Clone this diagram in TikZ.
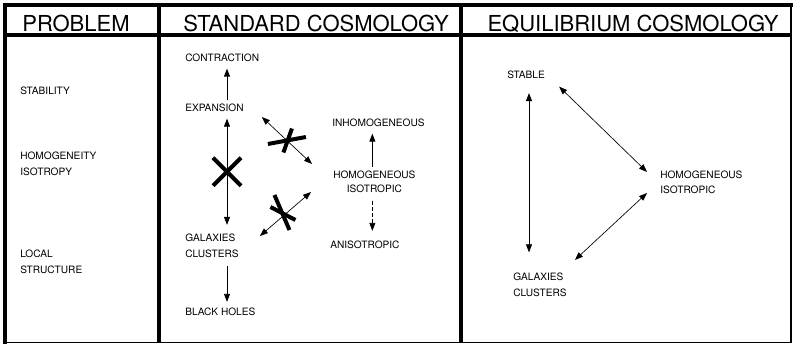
\documentclass[tikz,border=0pt]{standalone}
\usepackage{fontspec}
\setmainfont{TeX Gyre Heros}
\usepackage{tikz}
\usetikzlibrary{arrows.meta,calc}

\begin{document}
\begin{tikzpicture}[
    x=0.75pt, y=-0.75pt,
    head/.style={anchor=base, inner sep=0pt, font=\fontsize{16.5}{18}\selectfont},
    lbl/.style={anchor=west, inner sep=0pt, align=left, font=\fontsize{7.6}{12}\selectfont},
    arr/.style={-{Triangle[length=6pt,width=4.5pt]}, line width=0.6pt},
    dblarr/.style={{Triangle[length=6pt,width=4.5pt]}-{Triangle[length=6pt,width=4.5pt]}, line width=0.5pt},
    bar/.style={line width=3pt},
    heavy/.style={line width=2.6pt}
]
    \useasboundingbox (0,0) rectangle (793,345);

    % Frame
    \draw[line width=0.8pt] (5,5) rectangle (791,342.5);
    \draw[heavy] (3,5) -- (792.5,5);
    \draw[heavy] (5,35) -- (791,35);
    \draw[heavy] (5,3) -- (5,344);
    \draw[line width=3pt] (158.5,5) -- (158.5,343);
    \draw[line width=3pt] (461,5) -- (461,343);
    \draw[line width=1.8pt] (791,5) -- (791,35);

    % Headings
    \node[head] (hprob) at (76,32) {PROBLEM};
    \node[head] (hstd) at (316,32) {STANDARD COSMOLOGY};
    \node[head] (hequ) at (633,32) {EQUILIBRIUM COSMOLOGY};

    % Problem column
    \node[lbl] (stab) at (20,91) {STABILITY};
    \node[lbl] (homog) at (20,164) {HOMOGENEITY\\ISOTROPY};
    \node[lbl] (local) at (20,262) {LOCAL\\STRUCTURE};

    % Standard cosmology
    \node[lbl] (contr) at (185,58) {CONTRACTION};
    \node[lbl] (exp) at (185,108) {EXPANSION};
    \node[lbl] (gal) at (185,246) {GALAXIES\\CLUSTERS};
    \node[lbl] (bh) at (185,312) {BLACK HOLES};
    \node[lbl] (inhom) at (332,123) {INHOMOGENEOUS};
    \node[lbl, align=center, font=\fontsize{7.6}{10.5}\selectfont] (hom) at (333,182) {HOMOGENEOUS\\ISOTROPIC};
    \node[lbl] (aniso) at (330,245) {ANISOTROPIC};

    \draw[arr] ($(exp.north west)+(42,-4)$) -- ($(contr.south west)+(42,6.5)$);
    \draw[dblarr] ($(exp.south west)+(42,6.5)$) -- ($(gal.north west)+(42,-9)$)
        coordinate[pos=0.5] (xmid);
    \draw[arr] ($(gal.south west)+(42,8)$) -- ($(bh.north west)+(42,-6)$);
    \draw[dblarr] ($(exp.east)+(18,9)$) -- ($(hom.west)+(-21,-18)$)
        coordinate[pos=0.5] (xup);
    \draw[dblarr] ($(gal.east)+(21,-10)$) -- ($(hom.west)+(-22,10)$)
        coordinate[pos=0.5] (xlow);
    \draw[arr] ($(hom.north)+(-2,-4)$) -- ($(inhom.south -| hom.north)+(-2,6.5)$);
    \draw[arr, dash pattern=on 3pt off 1.5pt] ($(hom.south)+(-2,8)$) -- ($(aniso.north -| hom.south)+(-2,-10)$);

    % Crossed out
    \draw[bar] ($(xmid)+(-14,-14)$) -- ($(xmid)+(14,14)$);
    \draw[bar] ($(xmid)+(-14,14)$) -- ($(xmid)+(14,-14)$);
    \draw[bar] ($(xup)+(-19,3.5)$) -- ($(xup)+(19,-3.5)$);
    \draw[bar] ($(xup)+(-3.5,12)$) -- ($(xup)+(5,-12)$);
    \draw[bar] ($(xlow)+(-11,-19)$) -- ($(xlow)+(4,16)$);
    \draw[bar] ($(xlow)+(-15,-7)$) -- ($(xlow)+(10,6)$);

    % Equilibrium cosmology
    \node[lbl] (stable) at (507,75) {STABLE};
    \node[lbl, font=\fontsize{7.6}{11.25}\selectfont] (rhom) at (660,182.5) {HOMOGENEOUS\\ISOTROPIC};
    \node[lbl] (rgal) at (513,284.5) {GALAXIES\\CLUSTERS};

    \draw[dblarr] ($(stable.south west)+(22,14)$) -- ($(rgal.north west)+(16,-20)$);
    \draw[dblarr] ($(stable.south east)+(14,7.5)$) -- ($(rhom.west)+(-13,-10.5)$);
    \draw[dblarr] ($(rhom.west)+(-13,10.5)$) -- ($(rgal.north east)+(8,-12.4)$);

\end{tikzpicture}
\end{document}
